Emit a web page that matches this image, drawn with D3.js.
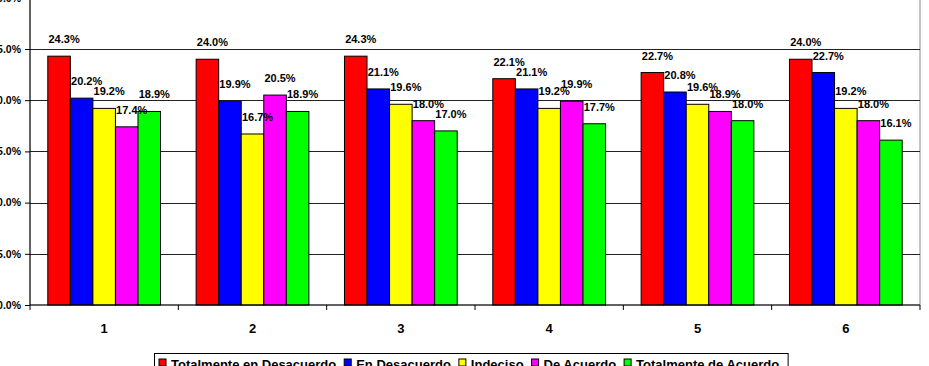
<!DOCTYPE html>
<meta charset="utf-8">
<style>
body { margin: 0; background: #fff; }
text { font-family: "Liberation Sans", Arial, sans-serif; font-weight: bold; fill: #000; }
.lbl { font-size: 11px; }
.axis text { font-size: 10.5px; }
.cat text { font-size: 13px; }
.legend text { font-size: 13px; }
</style>
<svg width="929" height="366"></svg>
<script src="https://d3js.org/d3.v7.min.js"></script>
<script>

// categories (groups along the x axis)
var groups = ["1", "2", "3", "4", "5", "6"];

// series names as in legend
var seriesNames = ["Totalmente en Desacuerdo", "En Desacuerdo", "Indeciso", "De Acuerdo", "Totalmente de Acuerdo"];
var seriesColors = ["#ff0000", "#0000ff", "#ffff00", "#ff00ff", "#00ff00"];

// values (%) per series, one per group
var totDesacuerdo = [24.3, 24.0, 24.3, 22.1, 22.7, 24.0];
var enDesacuerdo  = [20.2, 19.9, 21.1, 21.1, 20.8, 22.7];
var indeciso      = [19.2, 16.7, 19.6, 19.2, 19.6, 19.2];
var deAcuerdo     = [17.4, 20.5, 18.0, 19.9, 18.9, 18.0];
var totAcuerdo    = [18.9, 18.9, 17.0, 17.7, 18.0, 16.1];

var yTicks = [0, 5, 10, 15, 20, 25, 30];

var series = [totDesacuerdo, enDesacuerdo, indeciso, deAcuerdo, totAcuerdo];

var svg = d3.select("svg");
var left = 30, right = 920, top0 = -2.2, bottom = 305;

var x0 = d3.scaleBand().domain(groups).range([left, right]);
var bw = x0.bandwidth();
var x1 = d3.scaleBand().domain(d3.range(series.length)).range([bw * 0.12, bw * 0.88]);

var y = d3.scaleLinear().domain([0, 30]).range([bottom, top0]);

// plot area border (gray)
svg.append("rect")
  .attr("x", left).attr("y", top0)
  .attr("width", right - left).attr("height", bottom - top0)
  .attr("fill", "none").attr("stroke", "#8c8c8c");

// gridlines
svg.append("g").selectAll("line")
  .data(yTicks.slice(1))
  .enter().append("line")
  .attr("x1", left).attr("x2", right)
  .attr("y1", function(d) { return Math.round(y(d)) + 0.5; })
  .attr("y2", function(d) { return Math.round(y(d)) + 0.5; })
  .attr("stroke", "#222");

// bars
var g = svg.append("g");
series.forEach(function(vals, si) {
  g.selectAll(".s" + si)
    .data(vals)
    .enter().append("rect")
    .attr("class", "s" + si)
    .attr("x", function(d, i) { return x0(groups[i]) + x1(si); })
    .attr("y", function(d) { return y(d); })
    .attr("width", x1.bandwidth())
    .attr("height", function(d) { return y(0) - y(d); })
    .attr("fill", seriesColors[si])
    .attr("stroke", "#000")
    .attr("stroke-width", 1);
});

// data labels
series.forEach(function(vals, si) {
  g.selectAll(".l" + si)
    .data(vals)
    .enter().append("text")
    .attr("class", "lbl")
    .attr("text-anchor", "middle")
    .attr("x", function(d, i) { return x0(groups[i]) + x1(si) + x1.bandwidth() / 2 + 5; })
    .attr("y", function(d) { return y(d) - 13; })
    .text(function(d) { return d.toFixed(1) + "%"; });
});

// y axis
var yAxis = svg.append("g")
  .attr("class", "axis")
  .attr("transform", "translate(" + left + ",0)")
  .call(d3.axisLeft(y).tickValues(yTicks).tickSize(5).tickPadding(4)
    .tickFormat(function(d) { return d.toFixed(1) + "%"; }));
yAxis.select(".domain").attr("d", "M0," + top0 + "V" + bottom);

// x axis with ticks at band boundaries
var xAxis = svg.append("g")
  .attr("transform", "translate(0," + bottom + ")");
xAxis.append("line").attr("x1", left).attr("x2", right).attr("stroke", "#000");
xAxis.selectAll(".tk")
  .data(groups.concat(["end"]))
  .enter().append("line")
  .attr("x1", function(d, i) { return left + i * bw; })
  .attr("x2", function(d, i) { return left + i * bw; })
  .attr("y1", 0).attr("y2", 5)
  .attr("stroke", "#000");

svg.append("g")
  .attr("class", "cat")
  .selectAll("text")
  .data(groups)
  .enter().append("text")
  .attr("text-anchor", "middle")
  .attr("x", function(d) { return x0(d) + bw / 2; })
  .attr("y", 333)
  .text(function(d) { return d; });

// legend
var legend = svg.append("g").attr("class", "legend");
var legBox = legend.append("rect")
  .attr("y", 353.5).attr("height", 30)
  .attr("fill", "#fff").attr("stroke", "#000");
var lx = 159;
seriesNames.forEach(function(name, i) {
  legend.append("rect")
    .attr("x", lx).attr("y", 359)
    .attr("width", 7).attr("height", 7)
    .attr("fill", seriesColors[i]).attr("stroke", "#000");
  var t = legend.append("text")
    .attr("x", lx + 12).attr("y", 369)
    .text(name);
  lx += 12 + t.node().getComputedTextLength() + 8;
});
legBox.attr("x", 154.5).attr("width", lx - 154.5 + 1);

</script>
